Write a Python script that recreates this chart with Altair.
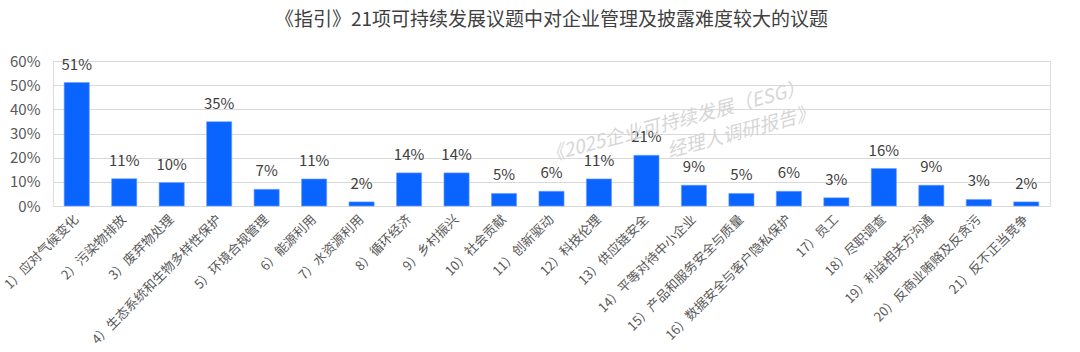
import altair as alt
import pandas as pd

categories = [
    "1）应对气候变化", "2）污染物排放", "3）废弃物处理", "4）生态系统和生物多样性保护",
    "5）环境合规管理", "6）能源利用", "7）水资源利用", "8）循环经济", "9）乡村振兴",
    "10）社会贡献", "11）创新驱动", "12）科技伦理", "13）供应链安全", "14）平等对待中小企业",
    "15）产品和服务安全与质量", "16）数据安全与客户隐私保护", "17）员工", "18）尽职调查",
    "19）利益相关方沟通", "20）反商业贿赂及反贪污", "21）反不正当竞争",
]
values = [0.511, 0.113, 0.097, 0.349, 0.069, 0.112, 0.017, 0.137, 0.137, 0.052, 0.061,
          0.112, 0.210, 0.086, 0.052, 0.061, 0.034, 0.155, 0.086, 0.027, 0.017]
y_ticks = [0, 0.1, 0.2, 0.3, 0.4, 0.5, 0.6]
title_text = "《指引》21项可持续发展议题中对企业管理及披露难度较大的议题"
watermark_lines = ["《2025企业可持续发展（ESG）", "经理人调研报告》"]

FONT = "Noto Sans CJK SC"
df = pd.DataFrame({"cat": categories, "val": values})

x = alt.X("cat:N", sort=categories, title=None,
          scale=alt.Scale(paddingInner=0.47, paddingOuter=0.235),
          axis=alt.Axis(labelAngle=-45, labelAlign="right", labelBaseline="middle",
                        labelFontSize=13, labelColor="#595959", labelFont=FONT,
                        labelPadding=11, ticks=False, domain=True, domainColor="#d9d9d9",
                        labelOverlap=False, labelLimit=400))
y = alt.Y("val:Q", title=None,
          scale=alt.Scale(domain=[0, 0.6], nice=False),
          axis=alt.Axis(values=y_ticks, tickCount=7, format=".0%", labelFontSize=15,
                        labelColor="#595959", labelFont=FONT, ticks=False, domain=False,
                        gridColor="#d9d9d9", labelPadding=13, labelOverlap=False))

bars = alt.Chart(df).mark_bar(color="#0A64FF", stroke="#6fa0ff", strokeWidth=0.6).encode(x=x, y=y)
labels = alt.Chart(df).mark_text(baseline="bottom", dy=-10, fontSize=15, color="#404040",
                                 font=FONT).encode(
    x=x, y=y, text=alt.Text("val:Q", format=".0%"))

wm1 = alt.Chart(pd.DataFrame({"t": [watermark_lines[0]]})).mark_text(
    angle=345, fontSize=19, fontStyle="italic", color="#d6d6d6", font=FONT, align="center",
    baseline="middle").encode(x=alt.value(622), y=alt.value(61), text="t:N")
wm2 = alt.Chart(pd.DataFrame({"t": [watermark_lines[1]]})).mark_text(
    angle=345, fontSize=19, fontStyle="italic", color="#d6d6d6", font=FONT, align="center",
    baseline="middle").encode(x=alt.value(688), y=alt.value(71), text="t:N")

chart = alt.layer(bars, labels, wm1, wm2).properties(
    width=997, height=145,
    title=alt.TitleParams(title_text, fontSize=19, font=FONT, fontWeight="normal",
                          color="#404040", anchor="middle", offset=24, dx=0),
    autosize=alt.AutoSizeParams(type="none"),
    padding={"left": 53, "top": 61, "right": 30, "bottom": 146},
).configure_view(stroke=None).configure(background="white")

chart.save("out.html", embed_options={"renderer": "svg", "actions": False})
